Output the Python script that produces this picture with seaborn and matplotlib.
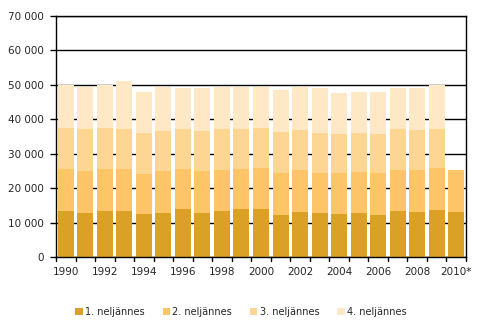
import matplotlib
matplotlib.use("Agg")
import matplotlib.pyplot as plt
import seaborn as sns
import pandas as pd
import numpy as np
from matplotlib.patches import Patch

years = ["1990", "1991", "1992", "1993", "1994", "1995", "1996", "1997", "1998", "1999",
         "2000", "2001", "2002", "2003", "2004", "2005", "2006", "2007", "2008", "2009", "2010*"]
tick_labels = [y if i % 2 == 0 else "" for i, y in enumerate(years)]

q1 = [13360, 12780, 13360, 13360, 12490, 12780, 13940, 12780, 13360, 13940,
      13940, 12200, 13070, 12780, 12490, 12780, 12200, 13360, 13070, 13650, 13070]
q2 = [12200, 12200, 12200, 12200, 11620, 12200, 11620, 12200, 11910, 11620,
      11910, 12200, 12200, 11620, 11910, 11910, 12200, 11910, 12200, 12200, 12200]
q3 = [11910, 12200, 11910, 11620, 11900, 11620, 11620, 11620, 11910, 11620,
      11620, 11910, 11620, 11610, 11320, 11320, 11320, 11910, 11620, 11330, 0]
q4 = [12490, 12200, 12490, 13940, 11910, 12780, 11910, 12490, 12200, 12200,
      11910, 12190, 12490, 13080, 11910, 11910, 12200, 11910, 12200, 12780, 0]

series_names = ["1. neljännes", "2. neljännes", "3. neljännes", "4. neljännes"]
colors = ["#DBA126", "#FDC567", "#FED694", "#FEE8C6"]

df = pd.DataFrame({"year": years, "q1": q1, "q2": q2, "q3": q3, "q4": q4})
cum = df[["q1", "q2", "q3", "q4"]].cumsum(axis=1)

sns.set_style("white")
plt.rcParams["font.family"] = ["DejaVu Sans"]

fig = plt.figure(figsize=(4.95, 3.26), dpi=100)
ax = fig.add_axes([56 / 495, 1 - 257 / 326, 410 / 495, 241 / 326])

for col, c in zip(["q4", "q3", "q2", "q1"], colors[::-1]):
    sns.barplot(x=df["year"], y=cum[col], color=c, width=0.82, ax=ax,
                saturation=1, edgecolor="none", linewidth=0, order=years)

ax.set_ylim(0, 70000)
ax.set_xlim(-0.5, len(years) - 0.5)
ax.set_yticks(np.arange(0, 70001, 10000))
ax.set_yticklabels([f"{v:,}".replace(",", " ") for v in range(0, 70001, 10000)], fontsize=7.5)
ax.yaxis.grid(True, color="black", linewidth=1.0)
ax.set_axisbelow(True)

ax.set_xticks(np.arange(len(years)))
ax.set_xticklabels(tick_labels, fontsize=7.5)
ax.tick_params(axis="x", length=0, pad=7)
ax.tick_params(axis="y", length=4, width=1, color="black", direction="out", pad=5, left=True)
# ticks at category boundaries
for b in np.arange(-0.5, len(years) + 0.5, 1.0):
    ax.plot([b, b], [0, -1300], color="black", linewidth=1, clip_on=False, zorder=5)

for s in ax.spines.values():
    s.set_visible(True)
    s.set_color("black")
    s.set_linewidth(1.0)
ax.set_xlabel("")
ax.set_ylabel("")

handles = [Patch(facecolor=c, edgecolor="none", label=n) for n, c in zip(series_names, colors)]
fig.legend(handles=handles, loc="center", bbox_to_anchor=(241 / 495, 1 - 312 / 326), ncol=4,
           frameon=False, fontsize=7, handlelength=0.75, handleheight=0.75,
           handletextpad=0.25, columnspacing=1.85, borderpad=0)

fig.savefig("out.png", dpi=100)
